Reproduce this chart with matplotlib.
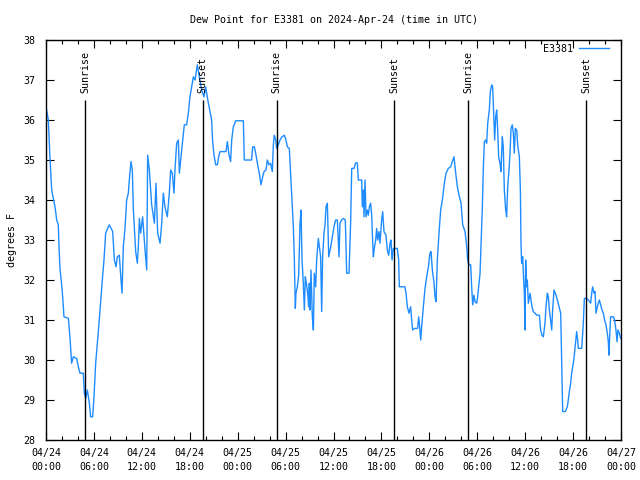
import numpy as np
import pandas as pd
import matplotlib
matplotlib.use("Agg")
import matplotlib.pyplot as plt
import matplotlib.dates as mdates

# hours since 2024-04-24 00:00 UTC
hours = [
    0.08, 0.29, 0.50, 0.71, 1.13, 1.34, 1.54, 1.63, 1.75, 1.96, 2.09, 2.25, 2.80, 3.01,
    3.21, 3.42, 3.84, 4.05, 4.26, 4.67, 4.80, 4.97, 5.18, 5.43, 5.59, 5.84, 6.01, 6.22,
    6.43, 6.64, 6.89, 7.10, 7.26, 7.47, 7.72, 7.93, 8.35, 8.56, 8.77, 8.93, 9.18, 9.35,
    9.52, 9.68, 9.89, 10.10, 10.31, 10.43, 10.64, 10.81, 10.94, 11.23, 11.44, 11.56,
    11.69, 11.85, 12.10, 12.40, 12.61, 12.73, 12.94, 13.23, 13.57, 13.77, 13.98, 14.28,
    14.49, 14.69, 14.90, 15.19, 15.44, 15.61, 15.82, 16.03, 16.15, 16.36, 16.57, 16.70,
    16.99, 17.32, 17.61, 17.82, 18.03, 18.45, 18.66, 18.95, 19.20, 19.49, 19.78, 19.99,
    20.33, 20.54,
    20.74, 20.87, 21.04, 21.25, 21.45, 21.66, 21.79, 22.54, 22.71, 22.92, 23.12, 23.25,
    23.46, 23.75, 24.71, 24.83, 25.75, 25.88, 26.09, 26.30, 26.50, 26.71, 26.92, 27.13,
    27.30, 27.55, 27.71, 27.92, 28.13, 28.34, 28.47, 28.59, 28.76, 28.88, 29.09, 29.30,
    29.55, 29.84, 30.05, 30.22, 30.47, 30.64, 30.80, 30.97, 31.09, 31.22, 31.30, 31.47,
    31.64, 31.81, 31.93, 32.06, 32.22, 32.35, 32.47, 32.60, 32.77, 32.89, 32.97, 33.06,
    33.18, 33.35, 33.48, 33.60, 33.77, 33.89, 34.10, 34.23, 34.39, 34.52, 34.64, 34.81,
    34.94, 35.06, 35.23, 35.40, 35.65, 35.85, 36.06, 36.27, 36.48, 36.69, 36.81, 37.02,
    37.23, 37.48, 37.65, 37.94, 38.15, 38.28, 38.57, 38.78, 38.98, 39.11,
    39.53, 39.61, 39.74, 39.82, 39.95, 40.07, 40.24, 40.36, 40.49, 40.65, 40.78, 40.91,
    40.99, 41.11, 41.28, 41.41, 41.53, 41.70, 41.82, 42.03, 42.16, 42.32, 42.57, 42.74,
    42.91, 43.08, 43.20, 43.33, 43.49, 43.99, 44.16, 44.24, 44.95, 45.08, 45.25, 45.45,
    45.66, 45.79, 45.91, 46.16, 46.54, 46.66, 46.79, 46.92, 47.04, 47.25, 47.46, 47.67,
    47.88, 48.08, 48.21, 48.38, 48.59, 48.71, 48.84, 49.00, 49.21, 49.42, 49.63, 49.88,
    50.09, 50.38, 50.67, 50.88, 51.09, 51.30, 51.51, 51.72, 51.97, 52.18, 52.47, 52.68,
    52.80, 52.97, 53.18, 53.30, 53.43, 53.59, 53.72, 53.93, 54.05, 54.18, 54.35, 54.47,
    54.64, 54.76, 54.89, 55.06, 55.18, 55.31, 55.51, 55.64, 55.81, 55.93, 56.06, 56.18,
    56.31, 56.43, 56.56, 56.68, 56.85, 56.97, 57.14, 57.26, 57.39, 57.56, 57.68, 57.81,
    57.98, 58.10,
    58.23, 58.39, 58.52, 58.64, 58.77, 58.94, 59.06, 59.27, 59.40, 59.48, 59.56, 59.69,
    59.77, 59.90, 59.98, 60.06, 60.19, 60.27, 60.40, 60.61, 60.73, 60.86, 61.02, 61.23,
    61.44, 61.78, 61.94, 62.11, 62.28, 62.48, 62.61, 62.78, 62.90, 63.03, 63.19, 63.32,
    63.44, 63.61, 63.86, 64.03, 64.24, 64.45, 64.57, 64.70, 64.99, 65.11, 65.28, 65.40,
    65.53, 65.70, 65.82, 66.03, 66.16, 66.28, 66.45, 66.57, 66.66, 67.08, 67.28, 67.41,
    67.70, 67.91, 68.20, 68.33, 68.45, 68.62, 68.75, 68.87, 69.04, 69.16, 69.29, 69.45,
    69.62, 69.79, 69.95, 70.12, 70.29, 70.41, 70.49, 70.58, 70.70, 71.04, 71.20, 71.37,
    71.50, 71.62, 71.79, 71.96,
]

dewpoint = [
    36.25, 36.00, 35.04, 34.25, 33.83, 33.50, 33.38, 32.83, 32.29, 31.88, 31.58, 31.08, 31.04, 30.54,
    29.92, 30.08, 30.04, 29.83, 29.67, 29.67, 29.17, 29.04, 29.25, 28.92, 28.58, 28.58, 29.08, 29.92,
    30.42, 30.92, 31.58, 32.12, 32.50, 33.17, 33.29, 33.38, 33.21, 32.50, 32.33, 32.58, 32.62, 32.12,
    31.67, 32.83, 33.29, 34.00, 34.17, 34.50, 34.96, 34.75, 33.75, 32.71, 32.42, 32.83,
    33.54, 33.17, 33.58, 32.75, 32.25, 35.12, 34.75, 33.88, 33.42, 34.42, 33.17, 32.92,
    33.42, 34.17, 33.83, 33.58, 34.17, 34.75, 34.67, 34.17, 34.75, 35.42, 35.50, 34.67,
    35.25, 35.88, 35.88, 36.17, 36.58, 37.08, 37.00, 37.38, 37.08, 36.75, 36.58, 36.83,
    36.42, 36.21,
    36.00, 35.46, 35.12, 34.88, 34.88, 35.12, 35.21, 35.21, 35.46, 35.12, 34.96, 35.50,
    35.83, 35.98, 35.98, 35.00, 35.00, 35.33, 35.33, 35.12, 34.88, 34.67, 34.38, 34.58,
    34.71, 34.75, 35.00, 34.88, 34.92, 34.71, 35.38, 35.62, 35.50, 35.29, 35.38, 35.50,
    35.58, 35.62, 35.50, 35.33, 35.29, 34.62, 34.00, 33.33, 32.58, 31.29, 31.67, 31.83,
    32.12, 33.42, 33.75, 32.50, 31.92, 31.25, 32.08, 31.92, 31.67, 31.33, 31.92, 31.25,
    32.25, 31.08, 30.75, 32.17, 31.83, 32.50, 33.04, 32.83, 32.58, 31.21, 32.58, 33.17,
    33.38, 33.83, 33.92, 32.58, 32.83, 33.08, 33.33, 33.50, 33.50, 32.58, 33.42, 33.50,
    33.54, 33.50, 32.17, 32.17, 33.46, 34.79, 34.79, 34.93, 34.93, 34.50,
    34.50, 33.83, 34.25, 33.58, 34.50, 33.58, 33.75, 33.62, 33.83, 33.92, 33.62, 32.92,
    32.58, 32.79, 33.00, 33.29, 33.00, 33.21, 32.92, 33.50, 33.71, 33.21, 33.12, 32.75,
    32.62, 32.92, 33.00, 32.50, 32.79, 32.79, 32.50, 31.83, 31.83, 31.67, 31.33, 31.17,
    31.33, 31.00, 30.75, 30.79, 30.79, 31.08, 30.83, 30.50, 30.83, 31.33, 31.79, 32.08,
    32.33, 32.67, 32.71, 32.25, 31.92, 31.58, 31.46, 32.50, 33.17, 33.75, 34.00, 34.42,
    34.67, 34.79, 34.83, 34.96, 35.08, 34.67, 34.33, 34.12, 33.92, 33.38, 33.21, 32.83,
    32.50, 32.38, 32.38, 31.83, 31.38, 31.62, 31.46, 31.42, 31.58, 31.83, 32.17, 32.88,
    33.83, 34.79, 35.46, 35.50, 35.42, 35.92, 36.25, 36.71, 36.88, 36.83, 36.12, 35.50,
    36.08, 36.25, 35.75, 35.08, 34.92, 34.71, 35.58, 35.33, 34.25, 33.75, 33.58, 34.33,
    34.75, 35.17,
    35.79, 35.88, 35.67, 35.17, 35.79, 35.75, 35.38, 35.08, 34.25, 32.88, 32.42, 32.58,
    32.17, 31.67, 30.75, 32.50, 31.83, 32.00, 31.42, 31.67, 31.50, 31.33, 31.21, 31.17,
    31.12, 31.12, 30.75, 30.62, 30.58, 30.92, 31.33, 31.67, 31.58, 31.25, 31.00, 30.75,
    31.25, 31.75, 31.62, 31.50, 31.33, 31.17, 29.92, 28.71, 28.71, 28.75, 28.83, 29.00,
    29.21, 29.42, 29.67, 29.92, 30.12, 30.38, 30.71, 30.50, 30.29, 30.29, 30.92, 31.54,
    31.54, 31.50, 31.42, 31.67, 31.83, 31.67, 31.71, 31.17, 31.33, 31.42, 31.50, 31.38,
    31.25, 31.17, 31.00, 30.88, 30.67, 30.46, 30.12, 30.58, 31.08, 31.08, 31.00, 30.75,
    30.46, 30.75, 30.67, 30.54,
]

sunrise = ["2024-04-24 04:54", "2024-04-25 04:52", "2024-04-26 04:51"]
sunset = ["2024-04-24 19:36", "2024-04-25 19:37", "2024-04-26 19:39"]

start = pd.Timestamp("2024-04-24 00:00")
times = start + pd.to_timedelta(hours, unit="h")

fs = 7.2
plt.rcParams["font.family"] = "DejaVu Sans Mono"
plt.rcParams["font.size"] = fs

fig = plt.figure(figsize=(6.4, 4.8), dpi=100)
ax = fig.add_axes([46 / 640, 40 / 480, 575 / 640, 400 / 480])

ax.plot(times, dewpoint, color="#1e8cff", linewidth=1.0, label="E3381")

# sunrise / sunset markers
for t, name in [(s, "Sunrise") for s in sunrise] + [(s, "Sunset") for s in sunset]:
    ts = pd.Timestamp(t)
    ax.vlines(ts, 28, 36.5, color="black", linewidth=1.0)
    ax.text(ts, 36.68, name, rotation=90, ha="center", va="bottom", fontsize=fs)

ax.set_xlim(start, start + pd.Timedelta(hours=72))
ax.set_ylim(28, 38)
ax.set_yticks(np.arange(28, 39, 1))

ax.xaxis.set_major_locator(mdates.HourLocator(byhour=[0, 6, 12, 18]))
ax.xaxis.set_minor_locator(mdates.HourLocator(byhour=range(0, 24, 2)))
ax.xaxis.set_major_formatter(mdates.DateFormatter("%m/%d\n%H:%M"))
for lbl in ax.get_xticklabels():
    lbl.set_linespacing(1.5)

ax.tick_params(which="both", direction="in", top=True, right=True, labelsize=fs)
ax.tick_params(which="major", length=6, width=0.8)
ax.tick_params(which="minor", length=3, width=0.8)
ax.tick_params(axis="x", pad=6)
ax.tick_params(axis="y", pad=8)
for sp in ax.spines.values():
    sp.set_linewidth(1.0)

ax.set_title("Dew Point for E3381 on 2024-Apr-24 (time in UTC)", fontsize=fs, pad=12)
ax.set_ylabel("degrees F", fontsize=fs, labelpad=4.5)

ax.legend(loc="upper right", bbox_to_anchor=(1 - 5 / 575, 1 + 3 / 400), frameon=False,
          markerfirst=False, handlelength=3.0, handletextpad=0.6, borderaxespad=0.3,
          fontsize=fs)

fig.savefig("out.png", dpi=100)
